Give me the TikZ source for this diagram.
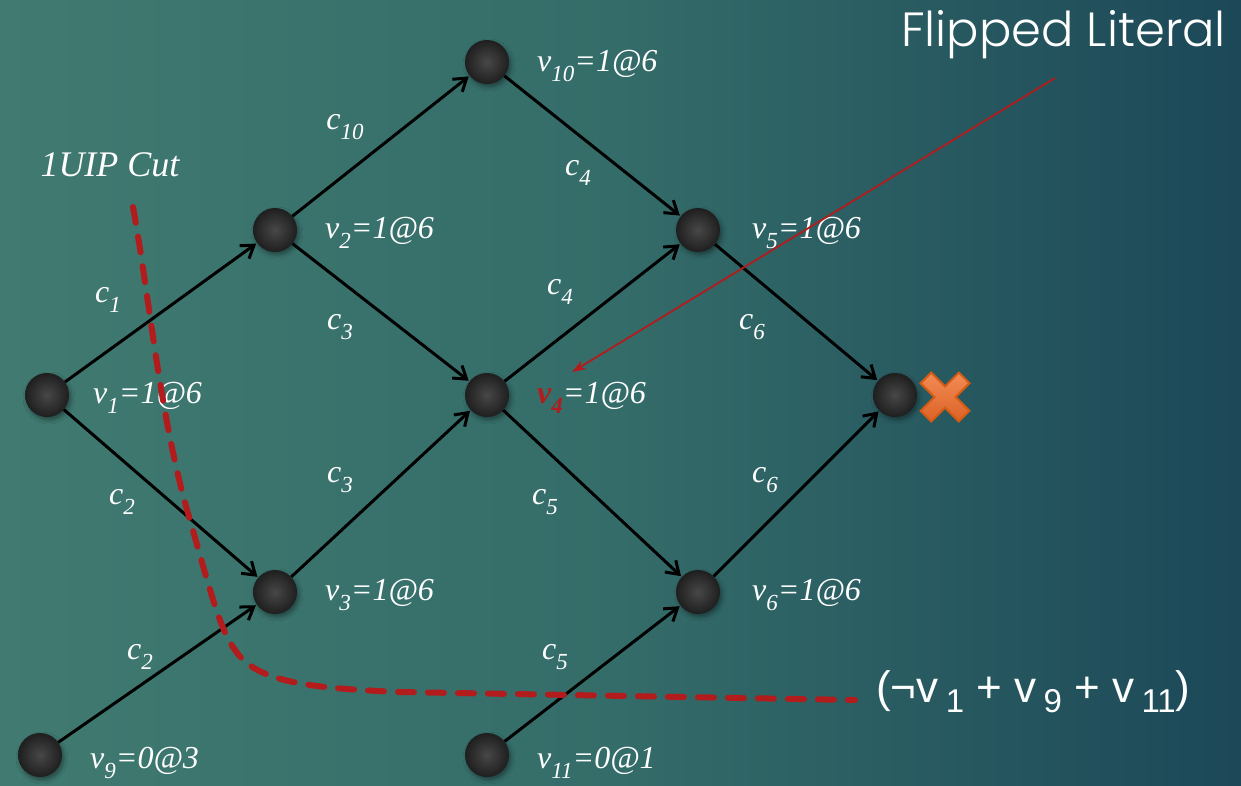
\documentclass[tikz,border=0pt]{standalone}
\usepackage{fontspec}
\setmainfont{Liberation Serif}
\newfontfamily\timesf{Liberation Serif}
\newfontfamily\gothic{Poppins Light}
\newfontfamily\arialf{Liberation Sans}
\usetikzlibrary{arrows.meta,shadows.blur}
\definecolor{bgL}{RGB}{64,122,112}
\definecolor{bgM}{RGB}{52,108,105}
\definecolor{bgR}{RGB}{28,72,88}
\definecolor{cutred}{RGB}{178,28,28}
\definecolor{xorange}{RGB}{236,122,62}
\definecolor{xtop}{RGB}{242,140,85}
\definecolor{xbot}{RGB}{220,98,38}
\definecolor{xedge}{RGB}{214,92,20}
\newcommand{\lsub}[1]{\raisebox{-0.3em}{\fontsize{23}{23}\selectfont #1}}
\newcommand{\csub}[1]{{\fontsize{33}{33}\selectfont\raisebox{-0.3em}{#1}}}
\tikzset{
  ball/.style={circle,minimum size=44pt,inner sep=0pt,
    shading=radial,inner color=black!72,outer color=black!88,
    blur shadow={shadow xshift=2pt,shadow yshift=-3pt,shadow blur radius=4pt,shadow opacity=40}},
  vlab/.style={anchor=west,text=white,font=\timesf\itshape\fontsize{32}{32}\selectfont,inner sep=0pt},
  clab/.style={text=white,font=\timesf\itshape\fontsize{32}{32}\selectfont,inner sep=0pt},
  imp/.style={-{Straight Barb[length=12pt,width=16pt,line width=3pt]},line width=3pt,black,shorten >=1pt},
}
\begin{document}
\begin{tikzpicture}[x=1pt,y=-1pt]
\shade[left color=bgL,right color=bgR,middle color=bgM] (0,0) rectangle (1241,785);
\useasboundingbox (0,0) rectangle (1241,785);

% nodes
\node[ball] (v1) at (47,395) {};
\node[ball] (v2) at (275,230) {};
\node[ball] (v3) at (275,592) {};
\node[ball] (v4) at (487,395) {};
\node[ball] (v10) at (487,62) {};
\node[ball] (v5) at (698,230) {};
\node[ball] (v6) at (698,592) {};
\node[ball] (k) at (895,395) {};
\node[ball] (v9) at (40,755) {};
\node[ball] (v11) at (487,755) {};

% edges
\draw[imp] (v1) -- (v2);
\draw[imp] (v1) -- (v3);
\draw[imp] (v2) -- (v10);
\draw[imp] (v2) -- (v4);
\draw[imp] (v3) -- (v4);
\draw[imp] (v9) -- (v3);
\draw[imp] (v10) -- (v5);
\draw[imp] (v4) -- (v5);
\draw[imp] (v4) -- (v6);
\draw[imp] (v11) -- (v6);
\draw[imp] (v5) -- (k);
\draw[imp] (v6) -- (k);

% vertex labels
\node[vlab] (l10) at (537,66) {v\lsub{10}=1@6};
\node[vlab] (l2) at (325,233) {v\lsub{2}=1@6};
\node[vlab] (l5) at (752,233) {v\lsub{5}=1@6};
\node[vlab] (l1) at (93,398) {v\lsub{1}=1@6};
\node[vlab] (l4) at (537,398) {{\bfseries\color{cutred}v\lsub{4}}=1@6};
\node[vlab] (l3) at (325,595) {v\lsub{3}=1@6};
\node[vlab] (l6) at (752,595) {v\lsub{6}=1@6};
\node[vlab] (l9) at (90,763) {v\lsub{9}=0@3};
\node[vlab] (l11) at (537,763) {v\lsub{11}=0@1};

% clause labels
\node[clab] (e1) at (345,127) {c\lsub{10}};
\node[clab] (e2) at (578,173) {c\lsub{4}};
\node[clab] (e3) at (108,300) {c\lsub{1}};
\node[clab] (e4) at (340,327) {c\lsub{3}};
\node[clab] (e5) at (560,292) {c\lsub{4}};
\node[clab] (e6) at (752,327) {c\lsub{6}};
\node[clab] (e7) at (122,502) {c\lsub{2}};
\node[clab] (e8) at (340,480) {c\lsub{3}};
\node[clab] (e9) at (545,502) {c\lsub{5}};
\node[clab] (e10) at (765,480) {c\lsub{6}};
\node[clab] (e11) at (140,657) {c\lsub{2}};
\node[clab] (e12) at (555,657) {c\lsub{5}};

\node[clab,font=\timesf\itshape\fontsize{36}{36}\selectfont] (cutlab) at (110,165) {1UIP Cut};

% cut line
\coordinate (c0) at (133,207);
\coordinate (c9) at (855,700);
\draw[cutred,line width=6pt,dash pattern=on 16pt off 14pt,line cap=round]
  (c0) .. controls (150,300) and (160,420) .. (190,520)
  .. controls (210,590) and (220,630) .. (235,650)
  .. controls (255,680) and (300,688) .. (400,692)
  -- (c9);

% X mark
\begin{scope}[shift={(945,397)},rotate=45]
\shade[top color=xtop,bottom color=xbot,draw=xedge,line width=2pt]
 (-7.5,-27) -- (7.5,-27) -- (7.5,-7.5) -- (27,-7.5) -- (27,7.5) -- (7.5,7.5) -- (7.5,27) -- (-7.5,27) -- (-7.5,7.5) -- (-27,7.5) -- (-27,-7.5) -- (-7.5,-7.5) -- cycle;
\end{scope}
\node (xmark) at (945,397) {};

% flipped literal
\node[text=white,font=\gothic\fontsize{48}{48}\selectfont,anchor=east,inner sep=0pt] (fl) at (1226,35) {Flipped Literal};
\coordinate (fa) at (1055,78);
\coordinate (fb) at (572,372);
\draw[cutred,line width=1.8pt,-{Stealth[length=14pt,width=10pt]}] (fa) -- (fb);

% clause
\node[text=white,font=\arialf\fontsize{44}{44}\selectfont,anchor=west,inner sep=0pt] (cl) at (876,692)
 {(¬v\,\csub{1} + v\,\csub{9} + v\,\csub{11})};
\end{tikzpicture}
\end{document}
